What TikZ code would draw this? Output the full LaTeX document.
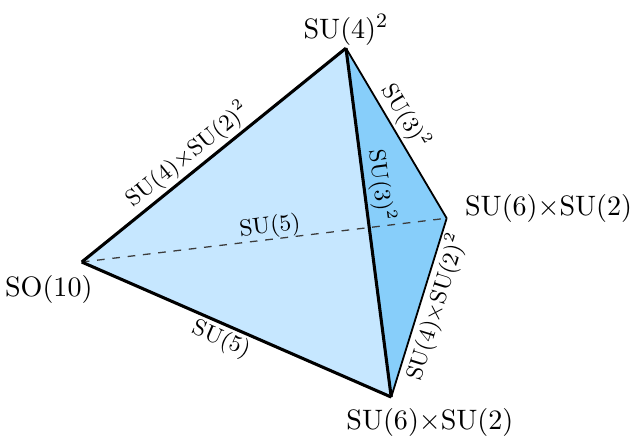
\documentclass[tikz,border=0pt]{standalone}
\usepackage{tikz}
\usetikzlibrary{positioning,calc}
\definecolor{facefront}{RGB}{198,231,255}
\definecolor{faceside}{RGB}{135,206,250}
\definecolor{hiddengray}{RGB}{60,60,60}

\begin{document}
\begin{tikzpicture}[
    vlabel/.style={inner sep=1pt,font=\fontsize{10.95}{13}\selectfont},
    elabel/.style={font=\fontsize{9}{11}\selectfont,sloped,inner sep=1pt,text=black},
    frontedge/.style={black,line width=1.2pt,line join=round},
    sideedge/.style={black,line width=0.7pt,line join=round}]
    \useasboundingbox (0,0) rectangle (8.645,6.0);
    \coordinate (top) at (4.74,5.34);
    \coordinate (so) at (1.12,2.41);
    \coordinate (bot) at (5.36,0.56);
    \coordinate (rgt) at (6.12,3.01);
    \fill[facefront] (so) -- (top) -- (bot) -- cycle;
    \fill[faceside] (top) -- (rgt) -- (bot) -- cycle;
    \draw[hiddengray,dashed,line width=0.5pt] (so) -- (rgt)
      node[elabel,above,inner sep=0pt,pos=0.52] (e-so-rgt) {$\mathrm{SU}(5)$};
    \draw[sideedge] (top) -- (rgt)
      node[elabel,above,pos=0.45] (e-top-rgt) {$\mathrm{SU}(3)^2$};
    \draw[sideedge] (rgt) -- (bot)
      node[elabel,below,pos=0.47] (e-rgt-bot) {$\mathrm{SU}(4){\times}\mathrm{SU}(2)^2$};
    \draw[frontedge] (so) -- (top)
      node[elabel,above,pos=0.44] (e-so-top) {$\mathrm{SU}(4){\times}\mathrm{SU}(2)^2$};
    \draw[frontedge] (so) -- (bot)
      node[elabel,below,pos=0.47] (e-so-bot) {$\mathrm{SU}(5)$};
    \draw[frontedge] (top) -- (bot)
      node[elabel,above,pos=0.40] (e-top-bot) {$\mathrm{SU}(3)^2$};
    \node[vlabel,above=0pt of top] (n-top) {$\mathrm{SU}(4)^2$};
    \node[vlabel,below left=0.14cm and -0.19cm of so] (n-so) {$\mathrm{SO}(10)$};
    \node[vlabel,below=0.115cm of bot,xshift=0.53cm] (n-bot) {$\mathrm{SU}(6){\times}\mathrm{SU}(2)$};
    \node[vlabel,right=0.21cm of rgt,yshift=0.137cm] (n-rgt) {$\mathrm{SU}(6){\times}\mathrm{SU}(2)$};
\end{tikzpicture}
\end{document}
